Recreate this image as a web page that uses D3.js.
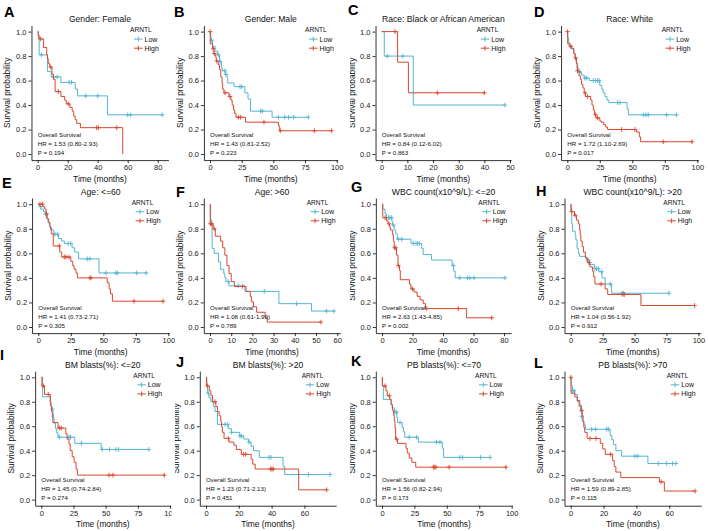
<!DOCTYPE html>
<html><head><meta charset="utf-8">
<script src="https://cdn.jsdelivr.net/npm/d3@7"></script>
<style>body{margin:0;background:#fff} text{font-family:"Liberation Sans",Arial,sans-serif}</style>
</head><body><svg id="c" width="708" height="531"></svg>
<script>
// ---------------- DATA ----------------
const panelIds = ["A","B","C","D","E","F","G","H","I","J","K","L"];
const panelTitles = ["Gender: Female","Gender: Male","Race: Black or African American","Race: White",
  "Age: <=60","Age: >60","WBC count(x10^9/L): <=20","WBC count(x10^9/L): >20",
  "BM blasts(%): <=20","BM blasts(%): >20","PB blasts(%): <=70","PB blasts(%): >70"];
const hrTexts = ["HR = 1.53 (0.80-2.93)","HR = 1.43 (0.81-2.52)","HR = 0.84 (0.12-6.02)","HR = 1.72 (1.10-2.69)",
  "HR = 1.41 (0.73-2.71)","HR = 1.08 (0.61-1.90)","HR = 2.63 (1.43-4.85)","HR = 1.04 (0.56-1.92)",
  "HR = 1.45 (0.74-2.84)","HR = 1.23 (0.71-2.13)","HR = 1.56 (0.82-2.94)","HR = 1.59 (0.89-2.85)"];
const pTexts = ["P = 0.194","P = 0.223","P = 0.863","P = 0.017","P = 0.305","P = 0.789",
  "P = 0.002","P = 0.912","P = 0.274","P = 0.451","P = 0.173","P = 0.115"];
const xTickLabels = [[0,20,40,60,80],[0,25,50,75,100],[0,10,20,30,40,50],[0,25,50,75,100],
  [0,25,50,75,100],[0,10,20,30,40,50,60],[0,20,40,60,80],[0,25,50,75,100],
  [0,25,50,75,100],[0,20,40,60],[0,25,50,75,100],[0,20,40,60]];
const yTickLabels = [0,0.2,0.4,0.6,0.8,1.0];
const groupNames = ["Low","High"];
const legendTitle = "ARNTL";
const annoTitle = "Overall Survival";

// step curves: [time (months), survival probability after the drop]
const A_low = [[0,1],[0.5,0.94],[1,0.81],[6.5,0.675],[9,0.63],[15.5,0.585],[25,0.53],[26.5,0.475],[46.5,0.32]];
const A_lowCens = [2.5,10.5,13,21,22.5,32,40,60,62,83];
const A_high = [[0,1],[0.3,0.97],[1,0.94],[3.8,0.87],[6,0.81],[6.5,0.78],[7,0.74],[8,0.71],[9.5,0.65],[10.5,0.61],[11.6,0.51],[15.5,0.47],[18,0.44],[19,0.41],[21.5,0.38],[23,0.35],[24,0.31],[25,0.28],[26,0.25],[28.5,0.215],[56.7,0]];
const A_highCens = [2,8.7,13.8,20.4,39.3,40.4,52.7];

const B_low = [[0,1],[0.5,0.95],[1,0.93],[2,0.88],[4,0.84],[6,0.81],[7.5,0.755],[9,0.70],[10,0.68],[12,0.65],[13.5,0.62],[14,0.58],[19,0.55],[27.5,0.5],[30,0.45],[32,0.35],[49,0.30]];
const B_lowCens = [1.3,6.5,8,11.8,12.6,23.7,25,40,41.3,54,59,62,66,77.6];
const B_high = [[0,1],[0.2,0.9],[2,0.86],[3,0.82],[4.5,0.79],[5,0.76],[6.5,0.73],[7.5,0.69],[8.5,0.63],[9.5,0.58],[10,0.53],[11,0.50],[15,0.47],[16.5,0.44],[17.5,0.40],[18.5,0.36],[19.5,0.33],[20.5,0.30],[28,0.26],[54,0.23],[55,0.19]];
const B_highCens = [0.1,2.6,3.4,5.3,11.8,15.8,22.4,24.2,42.6,55.5,82.4,96];

const C_low = [[0,1],[1,0.8],[12.3,0.4]];
const C_lowCens = [2.2,8.2,48];
const C_high = [[0,1],[6.2,0.75],[10.4,0.5]];
const C_highCens = [5.2,21.7,40];

const D_low = [[0,1],[0.3,0.95],[1,0.91],[2,0.87],[3,0.86],[5,0.82],[6,0.78],[7,0.74],[8,0.70],[9,0.67],[11,0.645],[13,0.62],[17,0.60],[25,0.56],[26.5,0.53],[27.5,0.50],[29,0.47],[30.5,0.44],[32,0.42],[46,0.37],[47,0.32]];
const D_lowCens = [9.7,13.5,14.9,20,21.8,23.3,24.4,38.7,40.5,58.5,60.5,62.3,76.4,84];
const D_high = [[0,1],[0.3,0.9],[1.5,0.88],[3.5,0.86],[5,0.82],[6,0.785],[7,0.74],[7.5,0.70],[7.7,0.68],[9,0.64],[10,0.61],[11,0.57],[12,0.54],[13,0.50],[14,0.47],[18,0.44],[19,0.40],[20,0.36],[21,0.32],[22,0.295],[25,0.27],[26,0.26],[28,0.24],[29.5,0.22],[31,0.20],[53.3,0.18],[55.4,0.14],[56.4,0.10]];
const D_highCens = [0.1,2.8,6.4,7.8,13.6,15.6,21.8,23.3,41.8,52,73.8,96];

const E_low = [[0,1],[1,0.98],[2,0.96],[4,0.94],[5.5,0.92],[7,0.89],[7.5,0.85],[8.5,0.82],[9.5,0.79],[12,0.755],[15.5,0.72],[18,0.70],[20,0.68],[26,0.645],[28,0.61],[31,0.555],[46.7,0.44]];
const E_lowCens = [1.8,5.6,12.8,14.9,23,24.9,37.7,39.7,52,59.7,60.8,75.6,83];
const E_high = [[0,1],[3.5,0.98],[5,0.96],[6,0.92],[6.5,0.88],[8,0.85],[9,0.81],[10,0.76],[11.5,0.66],[16.5,0.61],[18,0.57],[25,0.535],[26.5,0.50],[27.5,0.47],[29,0.44],[30,0.40],[53,0.36],[54.5,0.31],[55.5,0.27],[57,0.21]];
const E_highCens = [1.3,3.3,6.4,16.2,20,21.3,23.6,39.7,40.5,73.6,96];

const F_low = [[0,1],[0.3,0.87],[0.8,0.84],[1,0.64],[2,0.60],[4,0.53],[5,0.47],[6.5,0.435],[7,0.405],[7.5,0.37],[9,0.335],[16.5,0.29],[32.5,0.19],[47.9,0.13]];
const F_lowCens = [8.6,13.3,25.6,40.8,55,58.5];
const F_high = [[0,1],[0.1,0.84],[1.5,0.80],[2.5,0.74],[5,0.70],[6,0.645],[7,0.585],[8,0.50],[9,0.435],[10,0.37],[11.5,0.33],[17,0.29],[19,0.25],[19.5,0.205],[20.5,0.165],[22,0.12],[26,0.08],[27,0.04]];
const F_highCens = [0.2,0.8,2,15.4,52.3];

const G_low = [[0,1],[0.5,0.96],[2,0.92],[3,0.89],[6.5,0.86],[7,0.83],[8,0.79],[9,0.76],[10,0.715],[19,0.68],[26,0.64],[27,0.59],[32.5,0.545],[46,0.50],[47,0.455],[48,0.40]];
const G_lowCens = [4.2,5.2,6.3,7.4,10.7,12.9,20.5,22.3,23.4,24.5,46.8,51,56,57.7,60.3,80.7];
const G_high = [[0,1],[0.5,0.89],[3,0.865],[4,0.84],[5,0.815],[5.5,0.79],[7,0.75],[7.5,0.70],[8,0.645],[9.5,0.585],[10.5,0.50],[11.5,0.46],[12,0.385],[18,0.35],[19,0.31],[21,0.285],[23,0.25],[25,0.22],[27,0.19],[28.5,0.15],[55.5,0.075]];
const G_highCens = [2,4.6,8.2,9,10.7,20,29.3,50,72];

const H_low = [[0,1],[0.3,0.94],[0.8,0.84],[1.5,0.78],[3.5,0.75],[4,0.71],[5,0.64],[6,0.60],[7,0.575],[12,0.545],[14,0.51],[18.5,0.475],[22,0.45],[24.5,0.40],[27,0.35],[32,0.275]];
const H_lowCens = [13.8,19,20.3,21.7,24.3,31,40,41.3,77];
const H_high = [[0,1],[0.3,0.94],[3,0.91],[4.5,0.87],[6,0.84],[7,0.79],[7.5,0.75],[8,0.70],[9,0.655],[10,0.61],[11.5,0.565],[13,0.525],[15,0.49],[17,0.455],[18,0.41],[19,0.35],[27,0.31],[29,0.265],[55,0.175]];
const H_highCens = [0.8,3.4,14.6,23.8,40.7,42,97];

const I_low = [[0,1],[1,0.84],[7,0.77],[8,0.74],[9,0.70],[9.5,0.665],[10,0.625],[11,0.58],[12,0.545],[13,0.51],[26,0.46],[46.5,0.41]];
const I_lowCens = [8.5,14,21.4,22.7,31.2,47.4,53,58,60,83.5];
const I_high = [[0,1],[0.5,0.93],[2.5,0.86],[7,0.80],[7.5,0.76],[8,0.72],[8.5,0.675],[9,0.63],[13,0.585],[19,0.54],[20,0.495],[21.5,0.455],[22.5,0.40],[24,0.35],[25.5,0.305],[27,0.25],[28,0.20]];
const I_highCens = [1.5,5.4,14,15.5,52.6,55.7,95.6];

const J_low = [[0,1],[0.5,0.94],[1,0.87],[1.8,0.835],[3,0.80],[4.5,0.76],[5.5,0.72],[7,0.615],[13.5,0.58],[15.5,0.55],[20.5,0.52],[23,0.495],[26,0.47],[27.5,0.435],[29,0.40],[32.5,0.345],[47,0.27],[48,0.205]];
const J_lowCens = [1.4,11.6,13.2,15.6,20.7,21.7,26.2,38.4,39.6,62.4,75.6];
const J_high = [[0,1],[0.3,0.93],[2,0.89],[3,0.85],[4,0.80],[6,0.76],[7,0.72],[8,0.685],[9,0.64],[9.5,0.595],[10,0.55],[11,0.50],[14,0.47],[17,0.445],[18.5,0.41],[21.5,0.37],[27.5,0.33],[28.5,0.29],[30,0.25],[56.5,0.08]];
const J_highCens = [0.8,5.5,13.6,22.8,24.2,39.4,40.2,41,73.6];

const K_low = [[0,1],[0.3,0.93],[1,0.82],[7,0.78],[8,0.75],[9.5,0.715],[11.5,0.67],[12,0.63],[15.5,0.59],[16.5,0.555],[17.5,0.51],[28,0.47],[46.5,0.42],[47.5,0.345]];
const K_lowCens = [10,11.3,13.9,21,26.7,42,44.7,60,62.2,76,83.3];
const K_high = [[0,1],[0.3,0.93],[3,0.89],[4,0.85],[6,0.82],[7,0.775],[8,0.73],[9,0.69],[9.5,0.64],[10,0.585],[10.5,0.495],[12,0.46],[18.5,0.42],[19.5,0.38],[21,0.34],[23,0.305],[26,0.265]];
const K_highCens = [2.3,5.6,11.3,39.6,40.4,41.6,51.7,95.6];

const L_low = [[0,1],[0.2,0.93],[1,0.89],[2.5,0.86],[4,0.80],[5,0.76],[6,0.72],[6.5,0.68],[7,0.64],[8,0.61],[9,0.575],[24,0.525],[25,0.49],[26,0.45],[27.5,0.40],[31,0.355],[47,0.295]];
const L_lowCens = [1.2,2,6.7,12.8,15.2,21.9,22.9,39.1,40.8,53.3,58.4,62,64];
const L_high = [[0,1],[0.2,0.87],[2.5,0.84],[4,0.81],[5.5,0.77],[6.5,0.73],[7,0.69],[7.5,0.64],[8,0.59],[8.5,0.55],[10,0.50],[18,0.46],[19.5,0.415],[21,0.37],[25.5,0.32],[26.5,0.27],[27.5,0.225],[30.5,0.18],[54,0.145],[57,0.07]];
const L_highCens = [0.1,6.7,11.8,15.4,24.3,55,75.7];

const lowCurves = [A_low,B_low,C_low,D_low,E_low,F_low,G_low,H_low,I_low,J_low,K_low,L_low];
const lowCens = [A_lowCens,B_lowCens,C_lowCens,D_lowCens,E_lowCens,F_lowCens,G_lowCens,H_lowCens,I_lowCens,J_lowCens,K_lowCens,L_lowCens];
const highCurves = [A_high,B_high,C_high,D_high,E_high,F_high,G_high,H_high,I_high,J_high,K_high,L_high];
const highCens = [A_highCens,B_highCens,C_highCens,D_highCens,E_highCens,F_highCens,G_highCens,H_highCens,I_highCens,J_highCens,K_highCens,L_highCens];

// ---------------- LAYOUT (pixels) ----------------
const colors = {Low:"#55B5D0", High:"#D9472F"};
const rowY = [{y1:31.6,y0:154},{y1:204.2,y0:327},{y1:377.3,y0:499.6}];
const layout = [
  {x0:37.7, ppm:1.5,   row:0, lx:130,   letter:[4,17],   clip:[0,175]},
  {x0:210,  ppm:1.267, row:0, lx:305,   letter:[174,17], clip:[175,350]},
  {x0:381.7,ppm:2.567, row:0, lx:476.7, letter:[348,15], clip:[350,525]},
  {x0:567.3,ppm:1.3,   row:0, lx:661.7, letter:[534,17], clip:[525,708]},
  {x0:38.3, ppm:1.3,   row:1, lx:131.7, letter:[2,188],  clip:[0,175]},
  {x0:210,  ppm:2.12,  row:1, lx:306.7, letter:[176,197],clip:[175,350]},
  {x0:382,  ppm:1.525, row:1, lx:478.3, letter:[351,192],clip:[350,525]},
  {x0:570.7,ppm:1.277, row:1, lx:663.3, letter:[536,196],clip:[525,708]},
  {x0:41.3, ppm:1.287, row:2, lx:133.3, letter:[0,360],  clip:[0,171.5]},
  {x0:206,  ppm:1.64,  row:2, lx:301.7, letter:[176,367],clip:[175,350]},
  {x0:382,  ppm:1.297, row:2, lx:475,   letter:[351,366],clip:[350,525]},
  {x0:570.7,ppm:1.643, row:2, lx:666.7, letter:[534,368],clip:[525,708]}
];

// ---------------- DRAW ----------------
const svg = d3.select("#c");
const defs = svg.append("defs");
function stepAt(curve, t){ let s = curve[0][1]; for(const p of curve){ if(p[0] <= t) s = p[1]; } return s; }

panelIds.forEach((id, i) => {
  const L = layout[i], R = rowY[L.row];
  const curves = [{name:"Low", pts:lowCurves[i], cens:lowCens[i]},{name:"High", pts:highCurves[i], cens:highCens[i]}];
  curves.forEach(c => { c.end = Math.max(c.pts[c.pts.length-1][0], d3.max(c.cens) || 0); });
  const M = d3.max(curves, c => c.end);
  const x = d3.scaleLinear().domain([-0.05*M, 1.05*M]).range([L.x0 - 0.05*M*L.ppm, L.x0 + 1.05*M*L.ppm]);
  const h = R.y0 - R.y1;
  const y = d3.scaleLinear().domain([-0.05, 1.05]).range([R.y0 + 0.05*h, R.y1 - 0.05*h]);

  defs.append("clipPath").attr("id","clip"+id).append("rect")
    .attr("x",L.clip[0]).attr("y",0).attr("width",L.clip[1]-L.clip[0]).attr("height",531);
  const g = svg.append("g").attr("clip-path",`url(#clip${id})`);

  // axes
  const xa = g.append("g").attr("transform",`translate(0,${y.range()[0]})`)
    .call(d3.axisBottom(x).tickValues(xTickLabels[i]).tickSize(3).tickPadding(2).tickSizeOuter(0));
  const ya = g.append("g").attr("transform",`translate(${x.range()[0]},0)`)
    .call(d3.axisLeft(y).tickValues(yTickLabels).tickFormat(d3.format(".1f")).tickSize(3).tickPadding(2).tickSizeOuter(0));
  [xa, ya].forEach(a => {
    a.select(".domain").attr("stroke","#000").attr("stroke-width",0.8);
    a.selectAll(".tick line").attr("stroke","#000").attr("stroke-width",0.8);
    a.selectAll(".tick text").attr("font-size",7.5).attr("fill","#1a1a1a").attr("font-family","Liberation Sans, Arial, sans-serif");
  });

  // curves
  const line = d3.line().x(d => x(d[0])).y(d => y(d[1])).curve(d3.curveStepAfter);
  curves.forEach(c => {
    const pts = c.pts.concat([[c.end, c.pts[c.pts.length-1][1]]]);
    g.append("path").attr("d", line(pts)).attr("fill","none").attr("stroke",colors[c.name]).attr("stroke-width",1);
    g.append("g").selectAll("path").data(c.cens).join("path")
      .attr("d", t => { const px = x(t), py = y(stepAt(c.pts, t)); return `M${px-2.2},${py}h4.4M${px},${py-2.4}v4.8`; })
      .attr("stroke",colors[c.name]).attr("stroke-width",0.9).attr("fill","none");
  });

  // title
  const cx = (x.range()[0] + x.range()[1]) / 2;
  g.append("text").attr("x",cx).attr("y",R.y1 - 9.5).attr("text-anchor","middle")
    .attr("font-size",8.6).attr("fill","#111").text(panelTitles[i]);
  // axis titles
  g.append("text").attr("x",cx).attr("y",y.range()[0] + 21.5).attr("text-anchor","middle")
    .attr("font-size",8.4).attr("fill","#111").text("Time (months)");
  const cy = (y.range()[0] + y.range()[1]) / 2;
  g.append("text").attr("transform",`translate(${x.range()[0]-21},${cy}) rotate(-90)`).attr("text-anchor","middle")
    .attr("font-size",8.4).attr("fill","#111").text("Survival probability");

  // legend
  g.append("text").attr("x",L.lx).attr("y",R.y1 - 1.5).attr("dy","0.35em").attr("font-size",6.6).attr("fill","#111").text(legendTitle);
  groupNames.forEach((nm, k) => {
    const ly = R.y1 + 7.5 + k*9.1;
    g.append("path").attr("d",`M${L.lx+4},${ly}H${L.lx+12.6}M${L.lx+8.3},${ly-2.4}v4.8`)
      .attr("stroke",colors[nm]).attr("stroke-width",1).attr("fill","none");
    g.append("text").attr("x",L.lx+14.5).attr("y",ly).attr("dy","0.35em").attr("font-size",7).attr("fill","#111").text(nm);
  });

  // annotation
  [annoTitle, hrTexts[i], pTexts[i]].forEach((t, k) => {
    g.append("text").attr("x",x(0)).attr("y",y([0.16,0.085,0.012][k])).attr("dy","0.35em")
      .attr("font-size",6.2).attr("fill","#111").text(t);
  });

  // panel letter
  svg.append("text").attr("x",L.letter[0]).attr("y",L.letter[1]).attr("font-size",14.5)
    .attr("font-weight","bold").attr("fill","#000").text(id);
});
</script></body></html>
